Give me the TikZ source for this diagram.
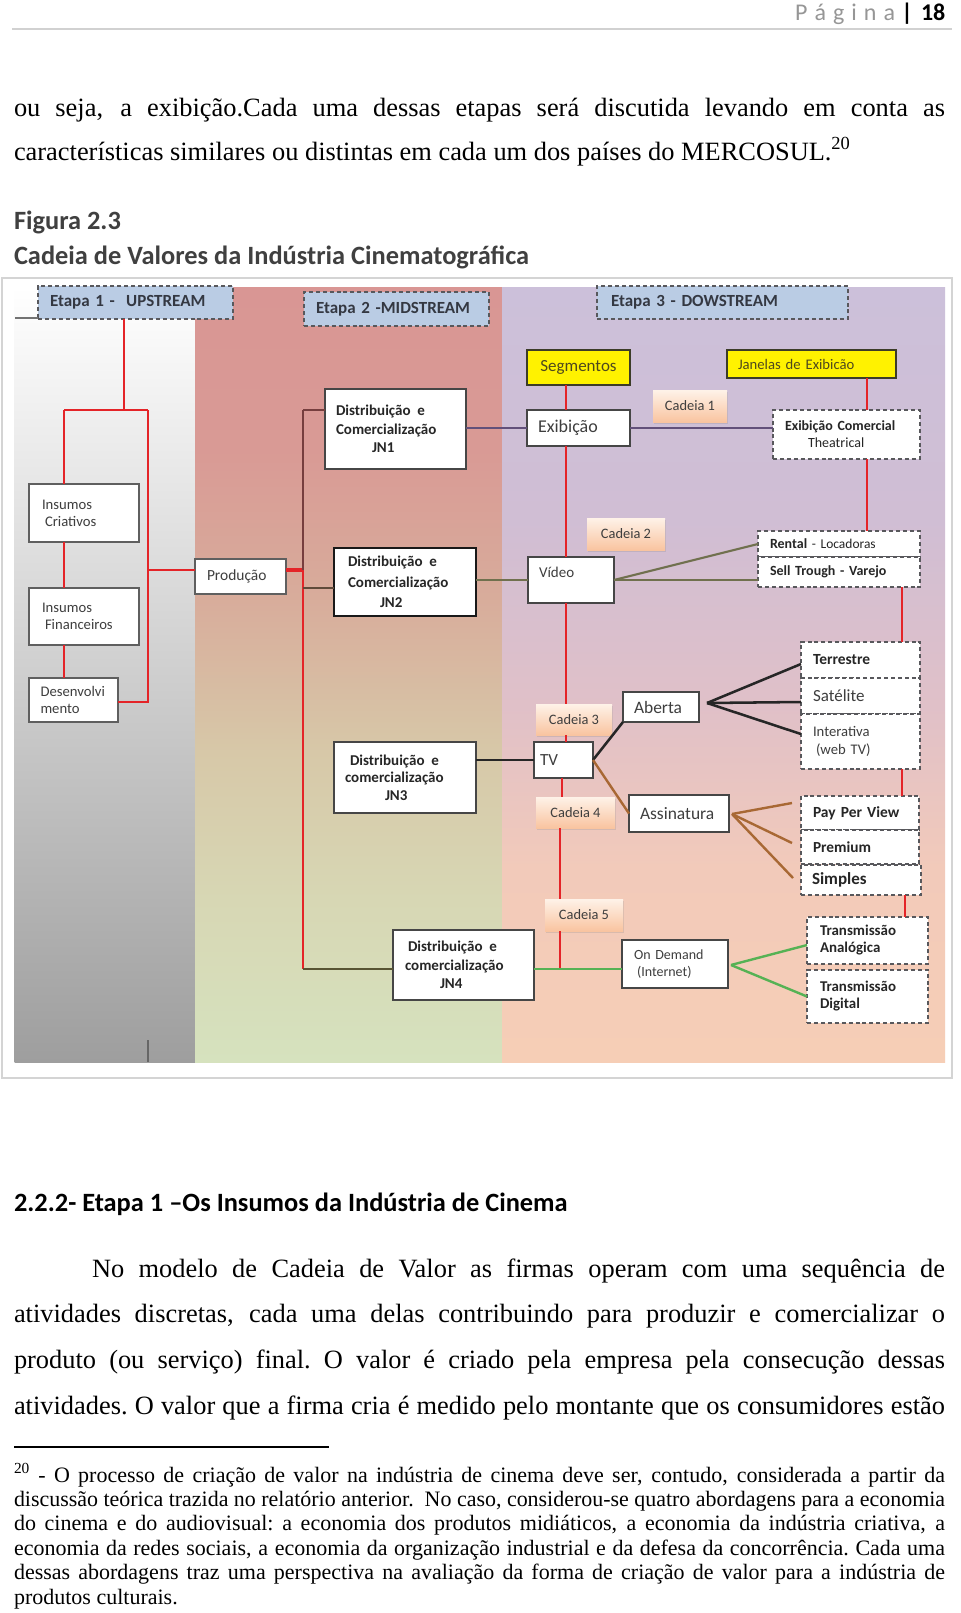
\documentclass[tikz,border=0pt]{standalone}
\usepackage{fontspec}
\usepackage{graphicx}
\setmainfont{Liberation Serif}
\newfontfamily\calib{Carlito}
\usetikzlibrary{shadows,calc}
\hyphenpenalty=10000
\exhyphenpenalty=10000

\definecolor{redl}{RGB}{228,36,40}
\definecolor{marn}{RGB}{118,62,62}
\definecolor{purp}{RGB}{98,80,122}
\definecolor{oliv}{RGB}{112,112,78}
\definecolor{brnl}{RGB}{168,104,52}
\definecolor{grnl}{RGB}{86,178,84}
\definecolor{dolv}{RGB}{88,84,52}
\definecolor{brwn2}{RGB}{96,74,58}
\definecolor{etblue}{RGB}{186,204,228}
\definecolor{dashc}{RGB}{88,88,92}
\definecolor{boxc}{RGB}{70,70,70}
\definecolor{ubox}{RGB}{95,95,95}
\definecolor{txtc}{RGB}{62,62,62}
\definecolor{btxt}{RGB}{38,38,38}
\definecolor{etxt}{RGB}{52,56,66}
\definecolor{ytxt}{RGB}{78,72,30}
\definecolor{ybord}{RGB}{60,60,40}
\definecolor{cadtop}{RGB}{254,242,232}
\definecolor{cadbot}{RGB}{249,196,160}
\definecolor{headc}{RGB}{64,64,64}
\definecolor{pgc}{RGB}{150,150,150}
\definecolor{framec}{RGB}{212,212,212}
\definecolor{lgray}{RGB}{158,158,158}
\definecolor{mA}{RGB}{217,150,148}
\definecolor{mB}{RGB}{217,154,149}
\definecolor{mC}{RGB}{216,172,155}
\definecolor{mD}{RGB}{215,200,168}
\definecolor{mE}{RGB}{215,215,180}
\definecolor{mF}{RGB}{214,226,190}
\definecolor{rA}{RGB}{204,192,218}
\definecolor{rB}{RGB}{208,190,212}
\definecolor{rC}{RGB}{224,192,200}
\definecolor{rD}{RGB}{242,202,186}
\definecolor{rE}{RGB}{246,206,182}

\pgfdeclareverticalshading{midsh}{100bp}{color(0bp)=(mF); color(25bp)=(mF); color(35.5bp)=(mE); color(45bp)=(mD); color(55bp)=(mC); color(64.5bp)=(mB); color(75bp)=(mA); color(100bp)=(mA)}
\pgfdeclareverticalshading{rightsh}{100bp}{color(0bp)=(rE); color(25bp)=(rE); color(37.5bp)=(rD); color(48bp)=(rC); color(60bp)=(rB); color(75bp)=(rA); color(100bp)=(rA)}

\newsavebox\jlbox
\newcommand\jl[2]{\sbox\jlbox{\spaceskip=0.25em\relax\xspaceskip=\spaceskip #2}%
 \ifdim\wd\jlbox>#1\relax\resizebox{#1}{\height}{\usebox\jlbox}\else
 \hbox to #1{\spaceskip=0.25em plus 1fil\relax\xspaceskip=\spaceskip #2}\fi}

% box node from corner coordinates (in px)
\newcommand\bxn[7][]{%
 \edef\bxw{\fpeval{(#5-#3)*0.75}pt}\edef\bxh{\fpeval{(#6-#4)*0.75}pt}%
 \edef\bxx{\fpeval{(#3+#5)/2}}\edef\bxy{\fpeval{(#4+#6)/2}}%
 \node[#1, minimum width=\bxw, minimum height=\bxh] (#2) at (\bxx,\bxy) {#7};}

\tikzset{
 bx/.style={draw=boxc, line width=1.1pt, fill=white, text=txtc},
 ubx/.style={draw=ubox, line width=1.5pt, fill=white, text=txtc, font=\calib\fontsize{11}{12.75}\selectfont, align=left},
 bxb/.style={bx, text=btxt, font=\calib\bfseries\fontsize{11.25}{13.9}\selectfont, align=left},
 dbx/.style={draw=dashc, line width=1.4pt, dash pattern=on 3pt off 2.2pt, fill=white, text=btxt, align=left},
 etb/.style={draw=dashc, line width=1.3pt, dash pattern=on 3pt off 2.2pt, fill=etblue, text=etxt, font=\calib\bfseries\fontsize{12.75}{15}\selectfont, align=left},
 yb/.style={draw=ybord, line width=1.2pt, fill=yellow, text=ytxt},
 cad/.style={top color=cadtop, bottom color=cadbot, drop shadow={opacity=0.22, shadow xshift=0.9pt, shadow yshift=-1.3pt}, text=txtc, font=\calib\fontsize{10.8}{13}\selectfont},
 rl/.style={draw=redl, line width=1.9pt},
 mar/.style={draw=marn, line width=1.3pt},
 pur/.style={draw=purp, line width=1.5pt},
 olv/.style={draw=oliv, line width=1.6pt},
 blk/.style={draw=black!85, line width=1.9pt},
 brn/.style={draw=brnl, line width=1.8pt},
 grn/.style={draw=grnl, line width=1.8pt},
 dol/.style={draw=dolv, line width=1.6pt},
 bdk/.style={draw=brwn2, line width=1.3pt},
 body/.style={anchor=base west, font=\fontsize{19.8}{24}\selectfont},
 foot/.style={anchor=base west, font=\fontsize{16.5}{19}\selectfont},
 hd/.style={anchor=base west, font=\calib\bfseries\fontsize{19.8}{24}\selectfont},
}

\begin{document}
\begin{tikzpicture}[x=0.75pt,y=-0.75pt, every node/.style={inner sep=0pt,outer sep=0pt}]
\useasboundingbox (0,0) rectangle (960,1613);
\fill[white] (0,0) rectangle (960,1613);

% ---------- page header ----------
\node[anchor=base east, text=pgc, font=\calib\fontsize{18}{20}\selectfont] (pg) at (895,21) {P\kern5.25pt á\kern5.25pt g\kern5.25pt i\kern5.25pt n\kern5.25pt a};
\node[anchor=base, font=\calib\bfseries\fontsize{18}{20}\selectfont] (bar) at (907,21) {|};
\node[anchor=base west, font=\calib\bfseries\fontsize{18}{20}\selectfont] (pn) at (921,21) {18};
\draw[black!18, line width=0.9pt] (12,29) -- (952,29);

% ---------- text above ----------
\node[body] (L1) at (14,116) {\jl{698.25pt}{ou seja, a exibição.Cada uma dessas etapas será discutida levando em conta as}};
\node[body] (L2) at (14,160) {características similares ou distintas em cada um dos países do MERCOSUL.\textsuperscript{20}};
\node[hd, text=headc] (FIG) at (14,229) {Figura 2.3};
\node[hd, text=headc] (CAP) at (14,264) {Cadeia de Valores da Indústria Cinematográfica};

% ---------- figure frame and backgrounds ----------
\draw[framec, line width=1.1pt] (2,278) rectangle (952,1078);
\shade[top color=white, bottom color=lgray] (14.7,287) rectangle (195,1062);
\shade[shading=midsh] (195,287) rectangle (502,1062);
\shade[shading=rightsh] (502,287) rectangle (945,1062);
\coordinate (tk) at (148,1040);
\draw[black!60, line width=1.3pt] (tk) -- (148,1062);

% ---------- stage headers ----------
\bxn[etb, text width=128.25pt]{E1}{38}{286}{233}{319}{Etapa 1 -\ \ UPSTREAM}
\bxn[etb, text width=120.75pt]{E2}{304}{292}{489}{326}{Etapa 2 -MIDSTREAM}
\bxn[etb, text width=167.25pt]{E3}{597}{286}{848}{319}{Etapa 3 - DOWSTREAM}
\coordinate (e1l) at (15,318);
\draw[black!55, line width=0.8pt] (e1l) -- (e1l -| E1.west);

% ---------- upstream ----------
\bxn[ubx, text width=63pt]{IC}{29}{484}{139}{542}{Insumos\\\hspace*{2.25pt}Criativos}
\bxn[ubx, text width=63pt]{IF}{29}{588}{139}{645}{Insumos\\\hspace*{2.25pt}Financeiros}
\bxn[ubx, text width=49.5pt]{DV}{29}{678}{118}{722}{Desenvolvi\\mento}
\bxn[ubx, text width=50.25pt, font=\calib\fontsize{11.6}{13}\selectfont]{PR}{195}{559}{286}{594}{Produção}

% ---------- midstream ----------
\bxn[bxb, text width=89.25pt]{JN1}{325}{389}{466}{469}{Distribuição\hspace{5pt}e\\Comercialização\\\hspace*{27pt}JN1}
\bxn[bxb, text width=85.5pt, line width=2pt, draw=black!90, font=\calib\bfseries\fontsize{11.25}{15.4}\selectfont]{JN2}{334}{548}{476}{616}{Distribuição\hspace{5pt}e\\Comercialização\\\hspace*{24pt}JN2}
\bxn[bxb, text width=90pt, font=\calib\bfseries\fontsize{11.25}{13.1}\selectfont]{JN3}{334}{742}{476}{813}{\hspace*{3.75pt}Distribuição\hspace{5pt}e\\comercialização\\\hspace*{30pt}JN3}
\bxn[bxb, text width=87.75pt]{JN4}{393}{930}{534}{1000}{\hspace*{2.25pt}Distribuição\hspace{5pt}e\\comercialização\\\hspace*{26.25pt}JN4}

% ---------- downstream ----------
\bxn[yb, font=\calib\fontsize{12.75}{15}\selectfont]{SEG}{527}{350}{630}{385}{Segmentos}
\bxn[yb, text width=110.25pt, align=left, font=\calib\fontsize{11}{13}\selectfont]{JAN}{727}{350}{896}{378}{Janelas de Exibicão}
\bxn[cad]{C1}{653}{390}{727}{422}{Cadeia 1}
\bxn[bx, text width=60.75pt, align=left, font=\calib\fontsize{13.5}{15}\selectfont]{EXI}{527}{410}{630}{446}{Exibição}
\bxn[dbx, text width=92.25pt, font=\calib\fontsize{10.5}{12.75}\selectfont]{EC}{773}{410}{920}{459}{\textbf{Exibição Comercial}\\\hspace*{17.25pt}Theatrical}
\bxn[cad]{C2}{587}{518}{665}{550}{Cadeia 2}
\bxn[bx]{VID}{528}{557}{614}{603}{}
\node[anchor=west, text=txtc, font=\calib\fontsize{11.25}{13}\selectfont] (VIDt) at (539,572) {Vídeo};
\bxn[dbx, text width=103.5pt, font=\calib\bfseries\fontsize{10.5}{12}\selectfont]{RENT}{758}{531}{920}{557}{Rental {\mdseries\fontsize{10.1}{12}\selectfont - Locadoras}}
\bxn[dbx, text width=103.5pt, font=\calib\bfseries\fontsize{10.5}{12}\selectfont]{SELL}{758}{557}{920}{587}{Sell Trough - Varejo}
\bxn[dbx, text width=71.25pt, font=\calib\bfseries\fontsize{11.6}{13}\selectfont]{TER}{801}{642}{920}{678}{Terrestre}
\bxn[dbx, text width=71.25pt, text=txtc, font=\calib\fontsize{12.75}{14}\selectfont]{SAT}{801}{678}{920}{714}{Satélite}
\bxn[dbx, text width=71.25pt, text=txtc, font=\calib\fontsize{11}{13.5}\selectfont]{INT}{801}{714}{920}{769}{Interativa\\\hspace*{2.25pt}(web TV)}
\bxn[cad]{C3}{536}{704}{612}{735}{Cadeia 3}
\bxn[bx, text width=35.25pt, align=left, font=\calib\fontsize{12.75}{14}\selectfont]{TV}{534}{742}{593}{778}{TV}
\bxn[bx, text width=40.5pt, align=left, font=\calib\fontsize{13.1}{15}\selectfont]{AB}{623}{692}{699}{722}{Aberta}
\bxn[cad]{C4}{536}{797}{615}{828}{Cadeia 4}
\bxn[bx, text width=58.5pt, align=left, font=\calib\fontsize{13.1}{15}\selectfont]{AS}{629}{795}{729}{832}{Assinatura}
\bxn[dbx, text width=70.5pt, font=\calib\bfseries\fontsize{11.6}{13}\selectfont]{PPV}{801}{796}{919}{830}{Pay Per View}
\bxn[dbx, text width=70.5pt, font=\calib\bfseries\fontsize{11.5}{13}\selectfont]{PREM}{801}{830}{919}{864}{Premium}
\bxn[dbx, text width=73.5pt, font=\calib\bfseries\fontsize{12.75}{14}\selectfont]{SIM}{801}{865}{921}{895}{Simples}
\bxn[cad]{C5}{545}{899}{623}{931}{Cadeia 5}
\bxn[bx, text width=61.5pt, align=left, font=\calib\fontsize{10.5}{12.75}\selectfont]{OD}{622}{940}{728}{988}{On Demand\\\hspace*{2.25pt}(Internet)}
\bxn[dbx, text width=71.25pt, font=\calib\bfseries\fontsize{11.2}{12.75}\selectfont]{TA}{807}{917}{928}{964}{Transmissão\\Analógica}
\bxn[dbx, text width=71.25pt, font=\calib\bfseries\fontsize{11.2}{12.75}\selectfont]{TD}{807}{970}{928}{1023}{Transmissão\\Digital}

% ---------- connectors: upstream ----------
\coordinate (uA) at (124,410);
\coordinate (uL) at (64,410);
\coordinate (uR) at (148,410);
\coordinate (uP) at (148,570);
\coordinate (uD) at (148,702);
\draw[rl] (E1.south -| uA) -- (uA);
\draw[rl] (uL) -- (uR);
\draw[rl] (uL) -- (IC.north -| uL);
\draw[rl] (IC.south -| uL) -- (IF.north -| uL);
\draw[rl] (IF.south -| uL) -- (DV.north -| uL);
\draw[rl] (uR) -- (uD) -- (uD -| DV.east);
\draw[rl] (uP) -- (uP -| PR.west);

% ---------- connectors: midstream ----------
\coordinate (m1) at (303,410);
\coordinate (mP) at (303,570);
\coordinate (m2) at (303,588);
\coordinate (m4) at (303,969);
\draw[draw=redl, line width=3pt] (PR.east |- mP) -- (mP);
\draw[mar] (m1) -- (m2);
\draw[rl] (mP) -- (m4);
\draw[mar] (m1) -- (m1 -| JN1.west);
\draw[bdk] (m2) -- (m2 -| JN2.west);
\draw[dol] (m4) -- (m4 -| JN4.west);

% ---------- connectors: downstream ----------
\draw[pur] (JN1.east |- EXI.west) -- (EXI.west);
\draw[pur] (EXI.east) -- (EXI.east -| EC.west);
\coordinate (r1) at (566,0);
\coordinate (r2) at (562,0);
\coordinate (r3) at (560,0);
\coordinate (gy) at (0,969);
\draw[rl] (SEG.south -| r1) -- (EXI.north -| r1);
\draw[rl] (EXI.south -| r1) -- (VID.north -| r1);
\draw[rl] (VID.south -| r1) -- (C3.north -| r1);
\draw[rl] (C3.south -| r1) -- (TV.north -| r1);
\draw[rl] (TV.south -| r2) -- (C4.north -| r2);
\draw[rl] (C4.south -| r3) -- (C5.north -| r3);
\draw[rl] (C5.south -| r3) -- (gy -| r3);
\coordinate (q1) at (867,0);
\coordinate (q2) at (902,0);
\coordinate (q3) at (905,0);
\draw[rl] (JAN.south -| q1) -- (EC.north -| q1);
\draw[rl] (EC.south -| q1) -- (RENT.north -| q1);
\draw[rl] (SELL.south -| q2) -- (TER.north -| q2);
\draw[rl] (INT.south -| q2) -- (PPV.north -| q2);
\draw[rl] (SIM.south -| q3) -- (TA.north -| q3);

\draw[olv] (JN2.east |- VID.west) -- (VID.west);
\draw[olv] (VID.east) -- (RENT.west);
\draw[olv] (VID.east) -- (VID.east -| SELL.west);

\draw[blk] (TV.west) -- (TV.west -| JN3.east);
\draw[blk] (TV.east) -- (AB.south west);
\draw[brn] (TV.east) -- (AS.west);
\coordinate (abx) at (707,703);
\draw[blk] (abx) -- ([yshift=-3pt]TER.west);
\draw[blk] (abx) -- ([yshift=-4.5pt]SAT.west);
\draw[blk] (abx) -- ([yshift=5.6pt]INT.west);
\coordinate (asx) at (732,814);
\draw[brn] (asx) -- ([xshift=-6.75pt,yshift=7.5pt]PPV.west);
\draw[brn] (asx) -- ([xshift=-6.75pt,yshift=3pt]PREM.west);
\draw[brn] (asx) -- ([xshift=-6pt,yshift=1.5pt]SIM.west);

\draw[grn] (JN4.east |- gy) -- (OD.west |- gy);
\coordinate (odx) at (731,965);
\draw[grn] (odx) -- ([yshift=-3.4pt]TA.west);
\draw[grn] (odx) -- (TD.west);

% ---------- text below ----------
\node[hd] (SEC) at (14,1211) {2.2.2- Etapa 1 –Os Insumos da Indústria de Cinema};
\node[body] (P1) at (92,1277) {\jl{639.75pt}{No modelo de Cadeia de Valor as firmas operam com uma sequência de}};
\node[body] (P2) at (14,1322) {\jl{698.25pt}{atividades discretas, cada uma delas contribuindo para produzir e comercializar o}};
\node[body] (P3) at (14,1368) {\jl{698.25pt}{produto (ou serviço) final. O valor é criado pela empresa pela consecução dessas}};
\node[body] (P4) at (14,1414) {\jl{698.25pt}{atividades. O valor que a firma cria é medido pelo montante que os consumidores estão}};

\draw[black, line width=1.2pt] (14,1447) -- (329,1447);
\node[foot] (F1) at (14,1482) {\jl{698.25pt}{\textsuperscript{20} - O processo de criação de valor na indústria de cinema deve ser, contudo, considerada a partir da}};
\node[foot] (F2) at (14,1506) {\jl{698.25pt}{discussão teórica trazida no relatório anterior.\ \ No caso, considerou-se quatro abordagens para a economia}};
\node[foot] (F3) at (14,1530.5) {\jl{698.25pt}{do cinema e do audiovisual: a economia dos produtos midiáticos, a economia da indústria criativa, a}};
\node[foot] (F4) at (14,1555) {\jl{698.25pt}{economia da redes sociais, a economia da organização industrial e da defesa da concorrência. Cada uma}};
\node[foot] (F5) at (14,1579.5) {\jl{698.25pt}{dessas abordagens traz uma perspectiva na avaliação da forma de criação de valor para a indústria de}};
\node[foot] (F6) at (14,1604) {produtos culturais.};
\end{tikzpicture}
\end{document}
